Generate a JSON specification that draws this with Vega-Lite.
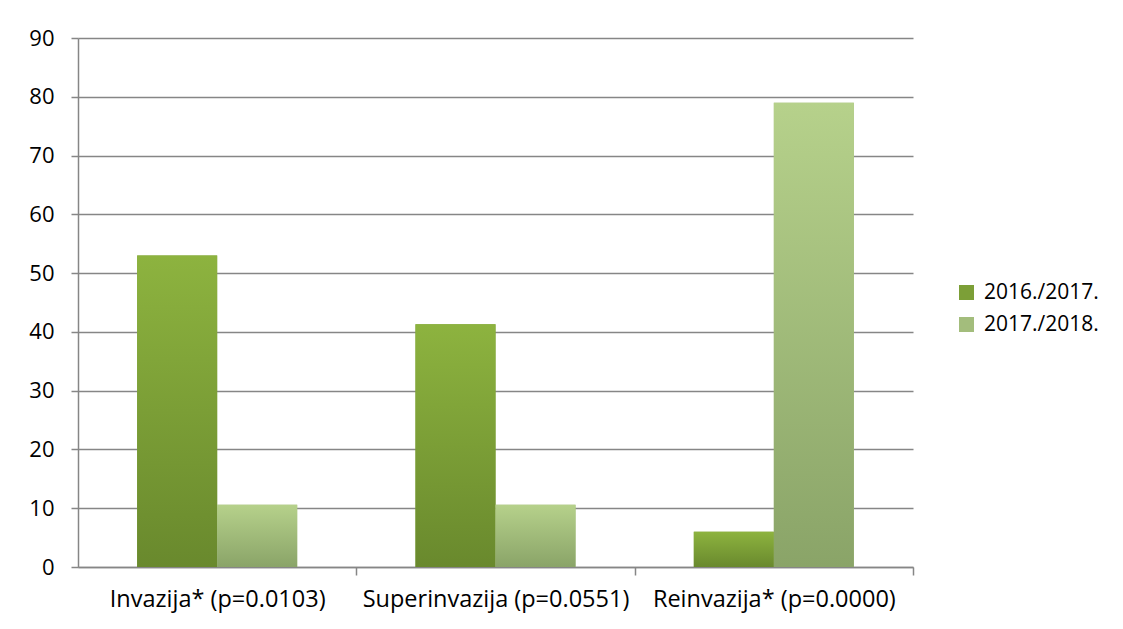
{
  "$schema": "https://vega.github.io/schema/vega-lite/v6.json",
  "width": 835,
  "height": 529,
  "autosize": {"type": "none"},
  "padding": {"left": 78, "top": 38, "right": 210, "bottom": 62},
  "background": "white",
  "config": {
    "font": "Open Sans",
    "view": {"stroke": null},
    "axis": {"labelFont": "Open Sans", "labelColor": "#000000", "labelLimit": 0, "domainColor": "#868686", "tickColor": "#868686", "gridColor": "#868686", "domainWidth": 1.5, "tickWidth": 1.5, "gridWidth": 1.5},
    "legend": {"labelFont": "Open Sans", "labelFontSize": 21, "labelColor": "#000000", "labelLimit": 0}
  },
  "data": {
    "values": [
      {"category": "Invazija* (p=0.0103)", "season": "2016./2017.", "value": 53},
      {"category": "Invazija* (p=0.0103)", "season": "2017./2018.", "value": 10.6},
      {"category": "Superinvazija (p=0.0551)", "season": "2016./2017.", "value": 41.3},
      {"category": "Superinvazija (p=0.0551)", "season": "2017./2018.", "value": 10.6},
      {"category": "Reinvazija* (p=0.0000)", "season": "2016./2017.", "value": 6},
      {"category": "Reinvazija* (p=0.0000)", "season": "2017./2018.", "value": 79}
    ]
  },
  "encoding": {
    "x": {
      "field": "category", "type": "nominal", "sort": null, "title": null,
      "scale": {"paddingInner": 0.425, "paddingOuter": 0.2125},
      "axis": {"labelAngle": 0, "tickOffset": 139.2, "labelOffset": -139.2, "tickSize": 8, "labelPadding": 12, "labelFontSize": 23.5, "grid": false}
    },
    "xOffset": {"field": "season", "type": "nominal", "scale": {"domain": ["2016./2017.", "2017./2018."], "paddingInner": 0, "paddingOuter": 0}},
    "y": {
      "field": "value", "type": "quantitative", "title": null,
      "scale": {"domain": [0, 90], "nice": false},
      "axis": {"values": [0, 10, 20, 30, 40, 50, 60, 70, 80, 90], "tickSize": 7, "labelPadding": 17, "labelFontSize": 22, "grid": true}
    }
  },
  "layer": [
    {
      "mark": {"type": "bar"},
      "encoding": {
        "color": {
          "field": "season", "type": "nominal", "title": null,
          "scale": {"domain": ["2016./2017.", "2017./2018."], "range": ["#7c9f37", "#a3bd7c"]},
          "legend": {"orient": "none", "legendX": 878, "legendY": 244, "symbolType": "square", "symbolSize": 225, "symbolStrokeWidth": 0, "rowPadding": 10, "labelOffset": 7}
        }
      }
    },
    {
      "transform": [{"filter": "datum.season === '2016./2017.'"}],
      "mark": {"type": "bar", "color": {"gradient": "linear", "x1": 0, "y1": 0, "x2": 0, "y2": 1, "stops": [{"offset": 0, "color": "#8db33f"}, {"offset": 1, "color": "#69892d"}]}}
    },
    {
      "transform": [{"filter": "datum.season === '2017./2018.'"}],
      "mark": {"type": "bar", "color": {"gradient": "linear", "x1": 0, "y1": 0, "x2": 0, "y2": 1, "stops": [{"offset": 0, "color": "#b6d18b"}, {"offset": 1, "color": "#8aa468"}]}}
    }
  ]
}
